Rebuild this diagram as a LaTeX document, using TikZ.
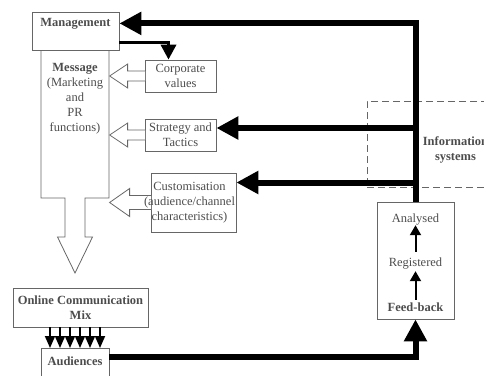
\documentclass[tikz,border=0pt]{standalone}
\usepackage{fontspec}
\setmainfont{Liberation Serif}
\usetikzlibrary{arrows.meta}

\definecolor{boxgray}{gray}{0.4}
\definecolor{txtgray}{gray}{0.3}

\tikzset{
    outline/.style={draw=boxgray, line width=0.8pt},
    box/.style={outline, text=txtgray, align=center, inner sep=2pt},
    plain/.style={text=txtgray, align=center, inner sep=0pt, text height=9pt, text depth=3pt},
    hollow/.style={outline, fill=white},
    bigarrow/.style={line width=6pt, -{Triangle[length=22pt,width=22pt]}},
    midarrow/.style={line width=3.5pt, -{Triangle[length=15pt,width=15pt]}},
    smallarrow/.style={line width=1.8pt, -{Triangle[length=12pt,width=10pt]}},
    fbarrow/.style={line width=2pt, -{Triangle[length=10pt,width=11pt]}}
}

\begin{document}
\begin{tikzpicture}[x=1pt, y=-1pt, font=\fontsize{12.5}{15}\selectfont]
    \useasboundingbox (0,0) rectangle (484,375);
    \clip (0,0) rectangle (484,375);

    % boxes
    \node[box, anchor=north, minimum width=87pt, minimum height=38pt, text height=11pt, text depth=21pt, inner sep=3pt] (mgmt) at (75.5,12) {\textbf{Management}};
    \node[box, minimum width=71pt, minimum height=32pt] (corp) at (180.5,76) {Corporate\\values};
    \node[box, minimum width=71pt, minimum height=32pt] (strat) at (180.5,135) {Strategy and\\Tactics};
    \node[box, minimum width=85pt, minimum height=59pt] (cust) at (193.5,202.5) {};

    % message column
    \draw[outline] (41,50) -- (41,198) -- (65,198) -- (65,237) -- (57.5,237) -- (75,273)
        -- (92.5,237) -- (85,237) -- (85,198) -- (109,198) -- (109,50);
    \node[plain, anchor=north, text height=, text depth=] (msg) at (75,63) {\textbf{Message}\\(Marketing\\and\\PR\\functions)};

    \node[box, minimum width=135pt, minimum height=39pt] (ocm) at (80.5,307.5) {\textbf{Online Communication}\\\textbf{Mix}};
    \node[box, anchor=north, minimum width=68pt, minimum height=42pt, text height=14pt, text depth=22pt, inner sep=3pt] (aud) at (75,348) {\textbf{Audiences}};

    % feed-back
    \node[box, minimum width=77pt, minimum height=117pt] (fb) at (415.5,260.5) {};
    \node[plain, anchor=base] (ana) at (415.5,222) {Analysed};
    \node[plain, anchor=base] (reg) at (415.5,266) {Registered};
    \node[plain, anchor=base] (feed) at (415.5,311) {\textbf{Feed-back}};

    \node[outline, dash pattern=on 7pt off 4pt, minimum width=133pt, minimum height=86pt] (info) at (433.5,144) {};
    \node[plain, text height=, text depth=] (infotext) at (455.5,149.5) {\textbf{Information}\\\textbf{systems}};

    % connectors
    \draw[bigarrow] (fb.north) |- ([yshift=8pt]mgmt.east);
    \draw[bigarrow] ([yshift=7pt]strat.east -| fb.north) -- ([yshift=7pt]strat.east);
    \draw[bigarrow] ([yshift=20pt]cust.east -| fb.north) -- ([yshift=20pt]cust.east);
    \draw[bigarrow] ([yshift=12pt]aud.east) -| (fb.south);
    \draw[midarrow] ([yshift=-11pt]mgmt.east) -| ([xshift=-12pt]corp.north);

    \draw[hollow] ([xshift=0.6pt]corp.west) ++(0,5) -- ++(-17.6,0) -- ++(0,7) -- ++(-18,-12) -- ++(18,-12) -- ++(0,7) -- ++(17.6,0);
    \draw[hollow] ([xshift=0.6pt]strat.west) ++(0,5) -- ++(-17.6,0) -- ++(0,7) -- ++(-18,-12) -- ++(18,-12) -- ++(0,7) -- ++(17.6,0);
    \draw[hollow] ([xshift=0.6pt]cust.west) ++(0,7) -- ++(-21.6,0) -- ++(0,7) -- ++(-20,-14) -- ++(20,-14) -- ++(0,7) -- ++(21.6,0);
    \node[plain, text height=, text depth=] (custtext) at ([xshift=-4pt]cust.center) {Customisation\\(audience/channel\\characteristics)};

    \foreach \d in {-25,-15,...,25}
        \draw[smallarrow] ([xshift=\d pt]aud.north |- ocm.south) -- ([xshift=\d pt]aud.north);

    \draw[fbarrow, shorten <=5pt] (reg.north) -- (ana.south);
    \draw[fbarrow, shorten <=2pt, shorten >=2pt] (feed.north) -- (reg.south);
\end{tikzpicture}
\end{document}
